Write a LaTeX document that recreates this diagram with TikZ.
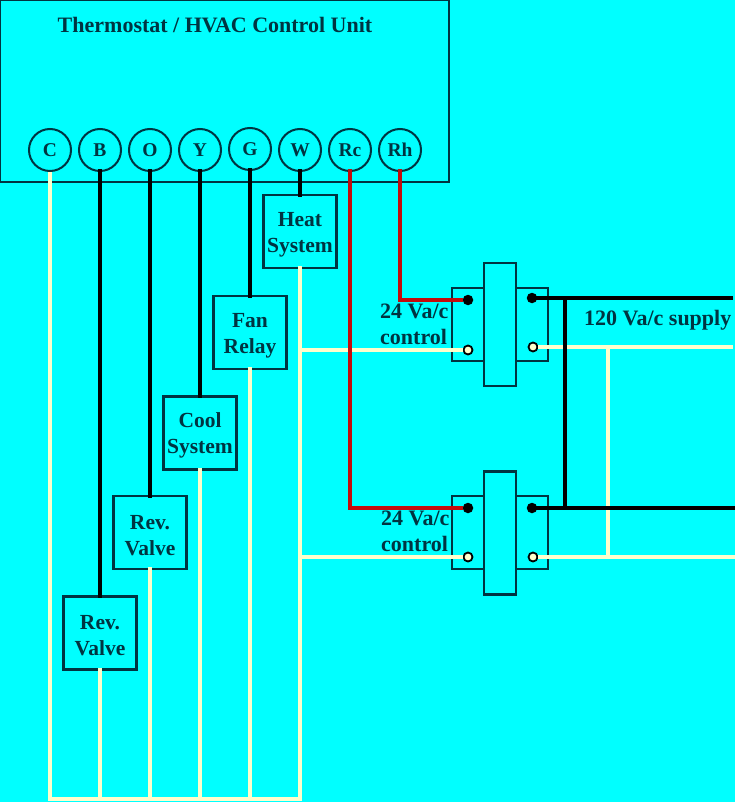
\documentclass[tikz,border=0pt]{standalone}
\usepackage{fontspec}
\setmainfont{Liberation Serif}
\definecolor{bgcyan}{HTML}{00FFFF}
\definecolor{edgeteal}{HTML}{003441}
\definecolor{wirecream}{HTML}{FFFFCC}
\definecolor{wirered}{HTML}{C40C0C}
\tikzset{
  lbl/.style={text=edgeteal,font=\fontsize{22}{26}\selectfont\bfseries,align=left,inner sep=0pt},
  port/.style={circle,draw=edgeteal,line width=2pt,minimum size=42pt,inner sep=0pt,text=edgeteal,font=\fontsize{19.5}{19.5}\selectfont\bfseries},
  load/.style={rectangle,draw=edgeteal,line width=2.2pt,minimum width=73pt,minimum height=73pt,inner sep=0pt,text=edgeteal,align=center,text height=46pt,font=\fontsize{21.5}{26}\selectfont\bfseries},
  coil/.style={rectangle,draw=edgeteal,line width=2.2pt,minimum width=32pt,minimum height=123pt},
  contact/.style={rectangle,draw=edgeteal,line width=2.2pt,minimum width=32pt,minimum height=73pt},
  termblack/.style={circle,fill=black,minimum size=10.5pt,inner sep=0pt},
  termwhite/.style={circle,draw=black,line width=1.8pt,fill=wirecream,minimum size=9pt,inner sep=0pt},
  blackwire/.style={black,line width=3.8pt,shorten <=-3pt,shorten >=-3pt},
  plainblack/.style={black,line width=3.8pt},
  redwire/.style={wirered,line width=3.8pt,shorten <=-3pt},
  whitewire/.style={wirecream,line width=3.4pt},
  loadwire/.style={wirecream,line width=3.4pt,shorten <=-3pt}
}
\begin{document}
\begin{tikzpicture}[x=1pt,y=-1pt]
\useasboundingbox (0,0) rectangle (735,802);
\fill[bgcyan] (0,0) rectangle (735,802);
\node (unit) at (224.5,91) [rectangle,draw=edgeteal,line width=2.2pt,minimum width=449pt,minimum height=182pt] {};
\node (title) at (215,25) [lbl] {Thermostat / HVAC Control Unit};
% terminals on the control unit
\node (C) at (50,150) [port] {C};
\node (B) at (100,150) [port] {B};
\node (O) at (150,150) [port] {O};
\node (Y) at (200,150) [port] {Y};
\node (G) at (250,149) [port] {G};
\node (W) at (300,150) [port] {W};
\node (Rc) at (350,150) [port] {Rc};
\node (Rh) at (400,150) [port] {Rh};
% loads
\node (heat) at (300,231.5) [load] {Heat\\System};
\node (fan) at (250,332.5) [load] {Fan\\Relay};
\node (cool) at (200,433) [load] {Cool\\System};
\node (revb) at (150,532.5) [load] {Rev.\\Valve};
\node (reva) at (100,633) [load] {Rev.\\Valve};
% relays
\node (coila) at (500,324.5) [coil] {};
\node (lefta) at (468,324.5) [contact] {};
\node (righta) at (532,324.5) [contact] {};
\node (coilb) at (500,533) [coil] {};
\node (leftb) at (468,532.5) [contact] {};
\node (rightb) at (532,532.5) [contact] {};
\node (ta1) at (468,300) [termblack] {};
\node (ta2) at (468,350) [termwhite] {};
\node (ta3) at (532,298) [termblack] {};
\node (ta4) at (533,347) [termwhite] {};
\node (tb1) at (468,508) [termblack] {};
\node (tb2) at (468,557) [termwhite] {};
\node (tb3) at (532,508) [termblack] {};
\node (tb4) at (533,557) [termwhite] {};
% free ends and junctions
\coordinate (bus1) at (50,799);
\coordinate (bus2) at (100,799);
\coordinate (bus3) at (150,799);
\coordinate (bus4) at (200,799);
\coordinate (bus5) at (250,799);
\coordinate (bus6) at (300,799);
\coordinate (ja) at (300,350);
\coordinate (jb) at (300,557);
\coordinate (lineA) at (730,298);
\coordinate (lineB) at (735,508);
\coordinate (neutA) at (733,347);
\coordinate (neutB) at (735,557);
\coordinate (hotA) at (565,298);
\coordinate (hotB) at (565,508);
\coordinate (tapA) at (608,347);
\coordinate (tapB) at (608,557);
% common side
\draw[whitewire] (C) -- (bus1);
\draw[loadwire] (reva) -- (bus2);
\draw[loadwire] (revb) -- (bus3);
\draw[loadwire] (cool) -- (bus4);
\draw[loadwire] (fan) -- (bus5);
\draw[loadwire] (heat) -- (bus6);
\draw[whitewire,line cap=rect] (bus1) -- (bus6);
\draw[whitewire] (ja) -- (ta2);
\draw[whitewire] (jb) -- (tb2);
\draw[whitewire] (ta4) -- (neutA);
\draw[whitewire] (tb4) -- (neutB);
\draw[whitewire] (tapA) -- (tapB);
% switched side
\draw[blackwire] (B) -- (reva);
\draw[blackwire] (O) -- (revb);
\draw[blackwire] (Y) -- (cool);
\draw[blackwire] (G) -- (fan);
\draw[blackwire] (W) -- (heat);
\draw[blackwire] (ta3) -- (lineA);
\draw[blackwire] (tb3) -- (lineB);
\draw[plainblack] (hotA) -- (hotB);
\draw[redwire] (Rh) |- (ta1);
\draw[redwire] (Rc) |- (tb1);
% supply and control labels
\node (ctla) at (380,324) [lbl,anchor=west] {24 Va/c\\control};
\node (ctlb) at (381,531) [lbl,anchor=west] {24 Va/c\\control};
\node (supply) at (584,320) [lbl,anchor=west] {120 Va/c supply};
\end{tikzpicture}
\end{document}
